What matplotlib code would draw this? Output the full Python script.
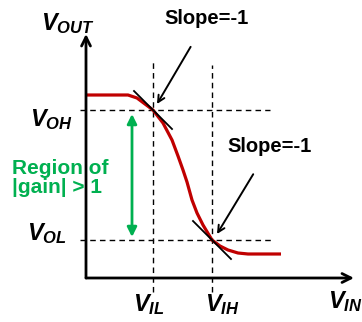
import matplotlib
matplotlib.use("Agg")
import matplotlib.pyplot as plt

plt.rcParams["font.family"] = ["Liberation Sans", "DejaVu Sans"]
plt.rcParams["mathtext.fontset"] = "custom"
plt.rcParams["mathtext.it"] = "Liberation Sans:italic:bold"
plt.rcParams["mathtext.rm"] = "Liberation Sans:italic:bold"
plt.rcParams["mathtext.bf"] = "Liberation Sans:italic:bold"

# voltage transfer curve (arbitrary units)
VIN = [0.00, 0.42, 0.51, 0.59, 0.67, 0.77, 0.86, 0.92, 0.97, 1.01,
       1.06, 1.11, 1.17, 1.26, 1.34, 1.42, 1.52, 1.62, 1.95]
VOUT = [1.83, 1.83, 1.80, 1.74, 1.68, 1.55, 1.38, 1.22, 1.08, 0.96,
        0.78, 0.65, 0.53, 0.38, 0.32, 0.28, 0.25, 0.24, 0.24]
V_IL, V_IH = 0.67, 1.26
V_OH, V_OL = 1.68, 0.38
SLOPE = -1

RED = "#C00000"
GREEN = "#00B050"

fig = plt.figure(figsize=(3.62, 3.22), dpi=100)
ax = fig.add_axes([0, 0, 1, 1])
ax.set_xlim(-0.86, 2.76)
ax.set_ylim(-0.44, 2.78)
ax.axis("off")

# axes with arrow heads
ax.annotate("", xy=(2.68, 0), xytext=(0, 0),
            arrowprops=dict(arrowstyle="->", lw=2, color="black",
                            mutation_scale=16, shrinkA=0, shrinkB=0))
ax.annotate("", xy=(0, 2.44), xytext=(0, 0),
            arrowprops=dict(arrowstyle="->", lw=2, color="black",
                            mutation_scale=16, shrinkA=0, shrinkB=0))

# guide lines
dash = dict(color="black", lw=1, ls=(0, (4, 3)))
ax.plot([V_IL, V_IL], [-0.14, 2.16], **dash)
ax.plot([V_IH, V_IH], [-0.14, 2.13], **dash)
ax.plot([-0.06, 1.84], [V_OH, V_OH], **dash)
ax.plot([-0.06, 1.86], [V_OL, V_OL], **dash)

# transfer curve
ax.plot(VIN, VOUT, color=RED, lw=2.3, solid_capstyle="butt")

# tangent lines with slope -1
h = 0.19
for x0, y0 in [(V_IL, V_OH), (V_IH, V_OL)]:
    ax.plot([x0 - h, x0 + h], [y0 - SLOPE * h, y0 + SLOPE * h],
            color="black", lw=1.3)

# slope annotations
txt = dict(fontsize=14.5, fontweight="bold", ha="center", va="center")
ax.annotate("Slope=-1", xy=(0.71, 1.74), xytext=(1.21, 2.59),
            arrowprops=dict(arrowstyle="->", lw=1.4, color="black",
                            mutation_scale=12, shrinkA=13, shrinkB=0),
            **txt)
ax.annotate("Slope=-1", xy=(1.31, 0.44), xytext=(1.84, 1.315),
            arrowprops=dict(arrowstyle="->", lw=1.4, color="black",
                            mutation_scale=12, shrinkA=13, shrinkB=0),
            **txt)

# gain region
ax.annotate("", xy=(0.46, 1.64), xytext=(0.46, 0.41),
            arrowprops=dict(arrowstyle="<|-|>", lw=2, color=GREEN,
                            mutation_scale=14, shrinkA=0, shrinkB=0))
ax.text(-0.74, 1.0, "Region of\n|gain| > 1", color=GREEN, fontsize=15,
        fontweight="bold", ha="left", va="center", linespacing=1.0)

# labels
lab = dict(fontsize=17, ha="center", va="center")
ax.text(-0.18, 2.54, r"$V_{OUT}$", **lab)
ax.text(-0.35, 1.58, r"$V_{OH}$", **lab)
ax.text(-0.39, 0.44, r"$V_{OL}$", **lab)
ax.text(0.63, -0.27, r"$V_{IL}$", **lab)
ax.text(1.36, -0.27, r"$V_{IH}$", **lab)
ax.text(2.59, -0.24, r"$V_{IN}$", **lab)

fig.savefig("out.png", dpi=100)
